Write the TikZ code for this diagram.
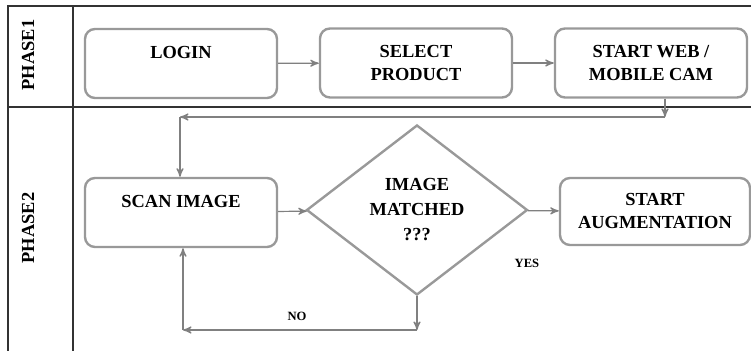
\documentclass[tikz,border=0pt]{standalone}
\usepackage{fontspec}
\setmainfont{Liberation Serif}
\usetikzlibrary{shapes.geometric,arrows,positioning}

\tikzset{
  procbox/.style={draw=black!40, line width=1.2pt, rounded corners=5pt,
    minimum width=96pt, minimum height=34.5pt, align=center, inner sep=0pt},
  decbox/.style={diamond, draw=black!40, line width=1.2pt,
    minimum width=110.5pt, minimum height=85pt, align=center, inner sep=0pt,
    font=\fontsize{9.2}{12.5}\selectfont\bfseries},
  flow/.style={->, draw=black!50, line width=0.6pt},
  lane/.style={draw=black!80, line width=0.8pt},
  tag/.style={font=\fontsize{6.3}{7}\selectfont\bfseries}
}

\begin{document}
\begin{tikzpicture}[x=0.5pt,y=-0.5pt,>=stealth',font=\fontsize{9.2}{11.5}\selectfont\bfseries]
    \useasboundingbox (0,0) rectangle (751,351);

    % swim lanes
    \draw[lane] (751,6) -- (8,6) -- (8,351);
    \draw[lane] (73,6) -- (73,351);
    \draw[lane] (8,107) -- (751,107);

    \node[rotate=90] (phaseone) at (28,55) {PHASE1};
    \node[rotate=90] (phasetwo) at (28,228) {PHASE2};

    % phase 1
    \node[procbox] (login) at (181,63.5) {LOGIN\\\mbox{}};
    \node[procbox] (select) at (416,63) {SELECT\\PRODUCT};
    \node[procbox] (webcam) at (651,63) {START WEB /\\MOBILE CAM};

    % phase 2
    \node[procbox] (scan) at (181,212.5) {SCAN IMAGE\\\mbox{}};
    \node[decbox] (match) at (417,210) {IMAGE\\MATCHED\\???};
    \node[procbox, minimum width=95pt, minimum height=33.5pt] (augment) at (655,211.5) {START\\AUGMENTATION};

    \coordinate (turnA) at (665,117);
    \coordinate (turnB) at (180,117);
    \coordinate (turnC) at (417,330);
    \coordinate (turnD) at (183,330);

    \draw[flow] (login) -- (select);
    \draw[flow] (select) -- (webcam);
    \draw[flow] (webcam.south -| turnA) -- (turnA);
    \draw[flow] (turnA) -- (turnB);
    \draw[flow] (turnB) -- (turnB |- scan.north);
    \draw[flow] (scan) -- (match);
    \draw[flow] (match) -- (augment);
    \draw[flow] (match) -- (turnC);
    \draw[flow] (turnC) -- (turnD);
    \draw[flow] (turnD) -- (turnD |- scan.south);

    \node[tag] (yes) at (527,263) {YES};
    \node[tag] (no) at (297,316) {NO};

\end{tikzpicture}
\end{document}
